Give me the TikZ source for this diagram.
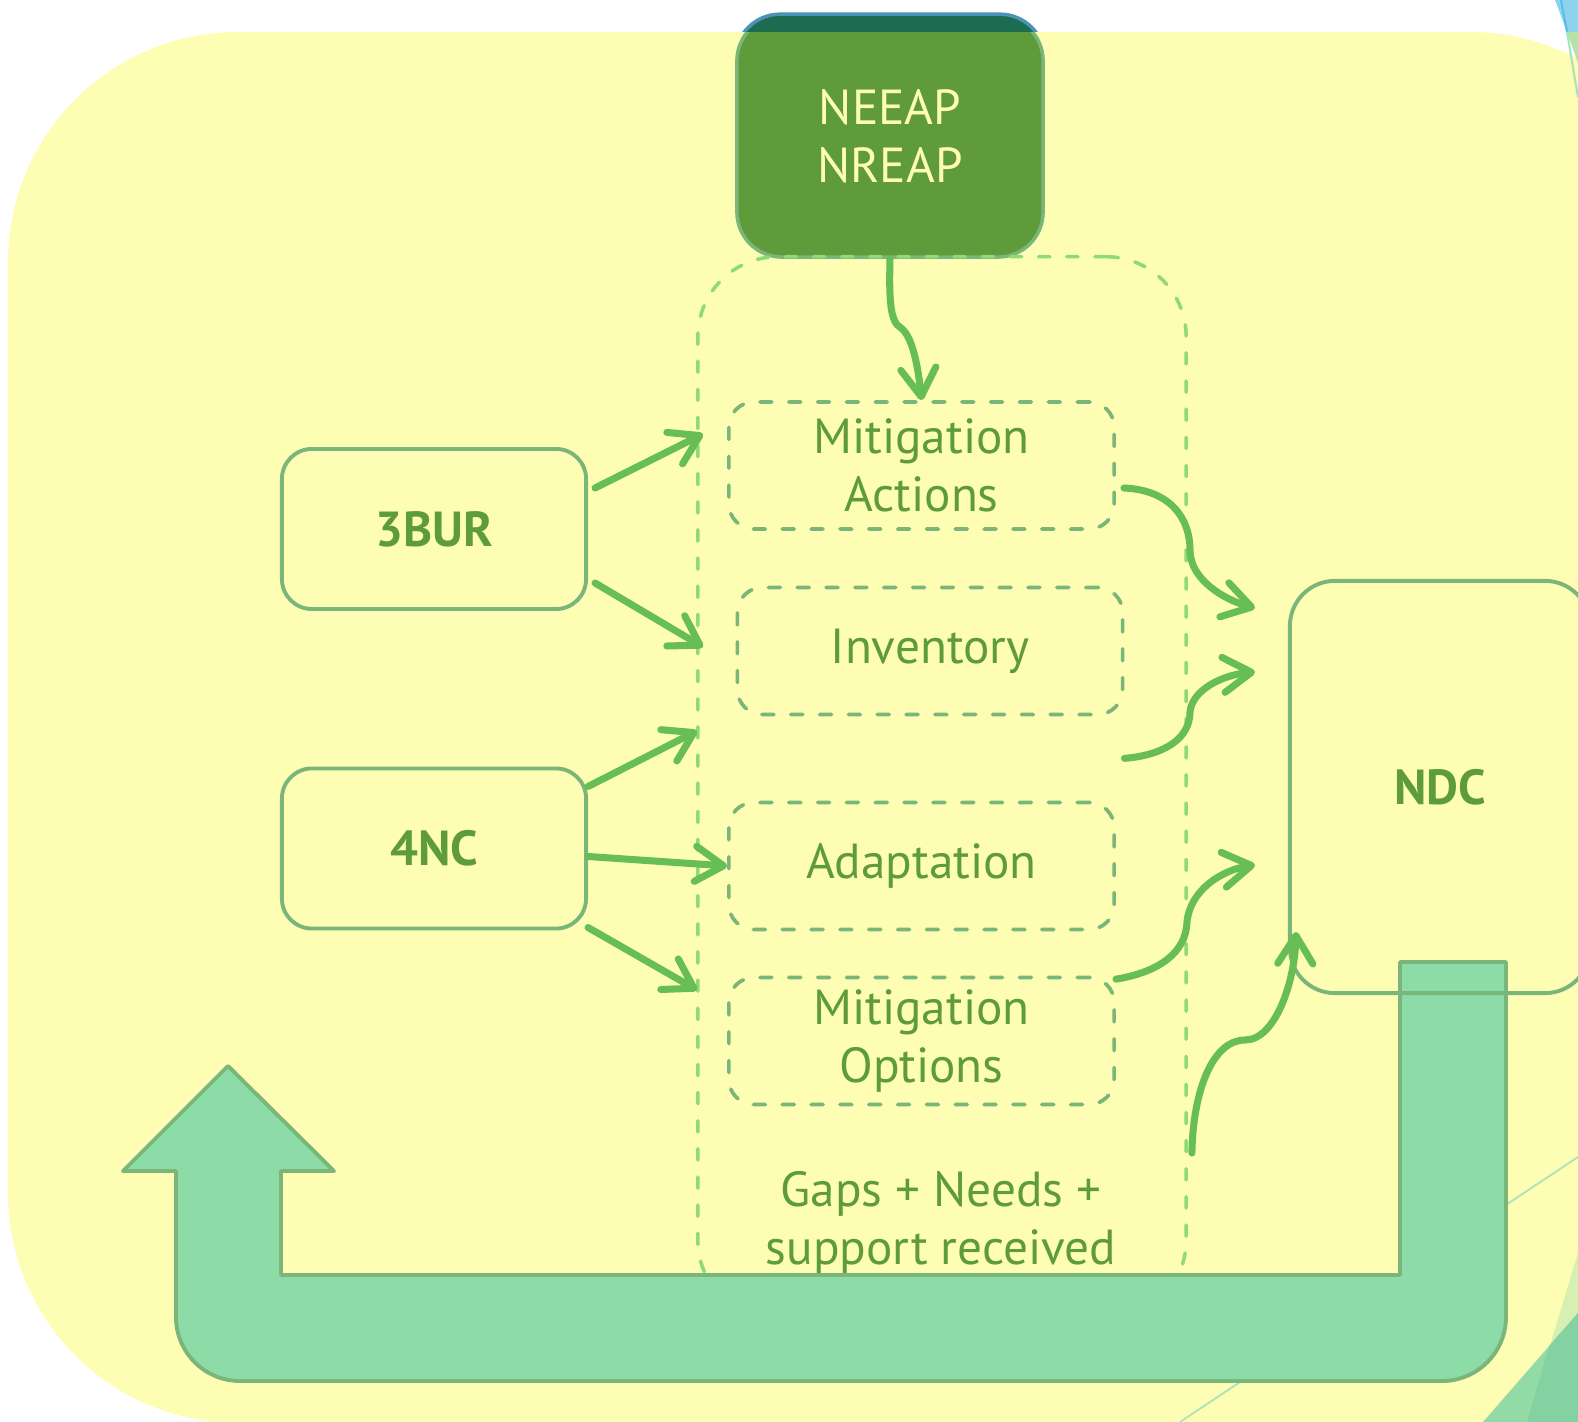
\documentclass[tikz,border=0pt]{standalone}
\usepackage{fontspec}
\setmainfont{PT Sans}
\usepackage{tikz}
\usetikzlibrary{positioning,arrows.meta}

\definecolor{bgyellow}{HTML}{FDFDB3}
\definecolor{boxline}{HTML}{7AB57A}
\definecolor{txtgreen}{HTML}{5E9B39}
\definecolor{arrgreen}{HTML}{67BE55}
\definecolor{hubline}{HTML}{8ED97A}
\definecolor{mint}{HTML}{8DDBA6}
\definecolor{olivebox}{HTML}{5F9B3A}
\definecolor{neeaptop}{HTML}{1D6B51}
\definecolor{neeapedge}{HTML}{4A93B5}
\definecolor{skyblue}{HTML}{8DD3EE}
\definecolor{skyline}{HTML}{5BBDE6}
\definecolor{decoline}{HTML}{A9E3BC}
\definecolor{decolime}{HTML}{D7F0B2}
\definecolor{decomint}{HTML}{92DAA6}
\definecolor{decodark}{HTML}{84D2A2}
\definecolor{decotop}{HTML}{B5E2A8}

\begin{document}
\begin{tikzpicture}[x=0.01cm,y=-0.01cm,
		box/.style={draw=boxline,line width=1.1pt,rounded corners=3mm,minimum width=3.04cm,minimum height=1.6cm,text=txtgreen,font=\fontsize{14}{17}\selectfont\bfseries},
		item/.style={draw=boxline,line width=1.05pt,dash pattern=on 3.4pt off 4.8pt,line cap=round,rounded corners=2.5mm,minimum width=3.85cm,minimum height=1.27cm,align=center,text=txtgreen,font=\fontsize{14}{16.5}\selectfont},
		link/.style={draw=arrgreen,line width=2pt,line cap=round,-{Straight Barb[length=8pt,width=10pt,round]}}]

		\useasboundingbox (0,0) rectangle (1578,1422);
		\clip (0,0) rectangle (1578,1422);

		%background
		\fill[bgyellow,rounded corners=2.3cm] (8,32) rectangle (1700,1423);
		\draw[decoline,line width=0.5pt] (1180,1422) -- (1578,1157);
		\fill[decolime] (1578,1253) -- (1527,1422) -- (1578,1422) -- cycle;
		\fill[decomint] (1578,1313) -- (1483,1422) -- (1578,1422) -- cycle;
		\fill[decodark] (1578,1313) -- (1549,1346) -- (1527,1422) -- (1578,1422) -- cycle;
		\fill[skyblue] (1555,0) -- (1578,0) -- (1578,32) -- (1567,32) -- cycle;
		\fill[decotop] (1567,32) -- (1578,32) -- (1578,63) -- cycle;
		\draw[skyline,line width=0.6pt] (1561,0) -- (1567,32);
		\draw[decoline,line width=0.6pt] (1567,32) -- (1578,97);

		%plan on top
		\node[fill=olivebox,draw=boxline,line width=1pt,rounded corners=4.5mm,minimum width=3.06cm,minimum height=2.41cm,align=center,text=bgyellow,font=\fontsize{14}{16.5}\selectfont] (neeap) at (890,136.5) {NEEAP\\NREAP};
		\begin{scope}
			\clip (0,0) rectangle (1578,32);
			\draw[fill=neeaptop,draw=neeapedge,line width=1pt,rounded corners=4.5mm] (neeap.south west) rectangle (neeap.north east);
		\end{scope}

		%middle column
		\node[draw=hubline,line width=1pt,dash pattern=on 3.2pt off 4.8pt,line cap=round,rounded corners=8mm,minimum width=4.88cm,minimum height=10.63cm] (hub) at (942,788.5) {};
		\node[item] (mact) at (921.5,465.5) {Mitigation\\Actions};
		\node[item] (inv) at (930,651) {Inventory};
		\node[item] (adapt) at (921.5,866) {Adaptation};
		\node[item] (mopt) at (921.5,1041) {Mitigation\\Options};
		\node[text=txtgreen,align=center,font=\fontsize{14}{16.5}\selectfont] (gaps) at (941,1223) {Gaps + Needs +\\support received};

		%left nodes
		\node[box] (bur) at (434,529) {3BUR};
		\node[box] (nc) at (434,848.5) {4NC};

		%arrow back
		\draw[fill=mint,draw=boxline,line width=1.1pt,line join=round] (228,1066) -- (334,1171) -- (281,1171) -- (281,1275) -- (1400,1275) -- (1400,962) -- (1506,962) -- (1506,1317)
			arc[start angle=0,end angle=-90,radius=0.64cm] -- (240,1381)
			arc[start angle=-90,end angle=-180,radius=0.64cm] -- (176,1171) -- (123,1171) -- cycle;

		%right node
		\node[box,rounded corners=4.5mm,minimum width=3cm,minimum height=4.12cm] (ndc) at (1440,787) {NDC};

		%entry points
		\coordinate (t1) at (703,434);
		\coordinate (t2) at (703,647);
		\coordinate (t3) at (697,731);
		\coordinate (t4) at (697,990);

		%edges
		\draw[link] (neeap.south) .. controls (889,300) and (890,322) .. (901,328) .. controls (912,336) and (918,365) .. (mact.north);
		\draw[link] ([shift={(7,-41)}]bur.east) -- (t1);
		\draw[link] ([shift={(7,54)}]bur.east) -- (t2);
		\draw[link] ([shift={(0,-62)}]nc.east) -- (t3);
		\draw[link] ([shift={(0,8)}]nc.east) -- (adapt.west);
		\draw[link] ([shift={(0,79)}]nc.east) -- (t4);

		\draw[link] ([shift={(8,22.5)}]mact.east) .. controls (1170,490) and (1190,518) .. (1190,550) .. controls (1190,580) and (1225,600) .. ([shift={(-33,-179)}]ndc.west);
		\draw[link] ([shift={(0,42)}]inv.south east) .. controls (1165,755) and (1190,738) .. (1190,712) .. controls (1192,690) and (1222,675) .. ([shift={(-33,-115)}]ndc.west);
		\draw[link] ([yshift=-1]mopt.north east) .. controls (1160,972) and (1186,952) .. (1187,922) .. controls (1190,890) and (1222,870) .. ([shift={(-33,78)}]ndc.west);
		\draw[link] ([shift={(4,364.5)}]hub.east) .. controls (1193,1090) and (1213,1040) .. (1245,1040) .. controls (1276,1040) and (1295,980) .. ([shift={(8,145)}]ndc.west);

\end{tikzpicture}
\end{document}
